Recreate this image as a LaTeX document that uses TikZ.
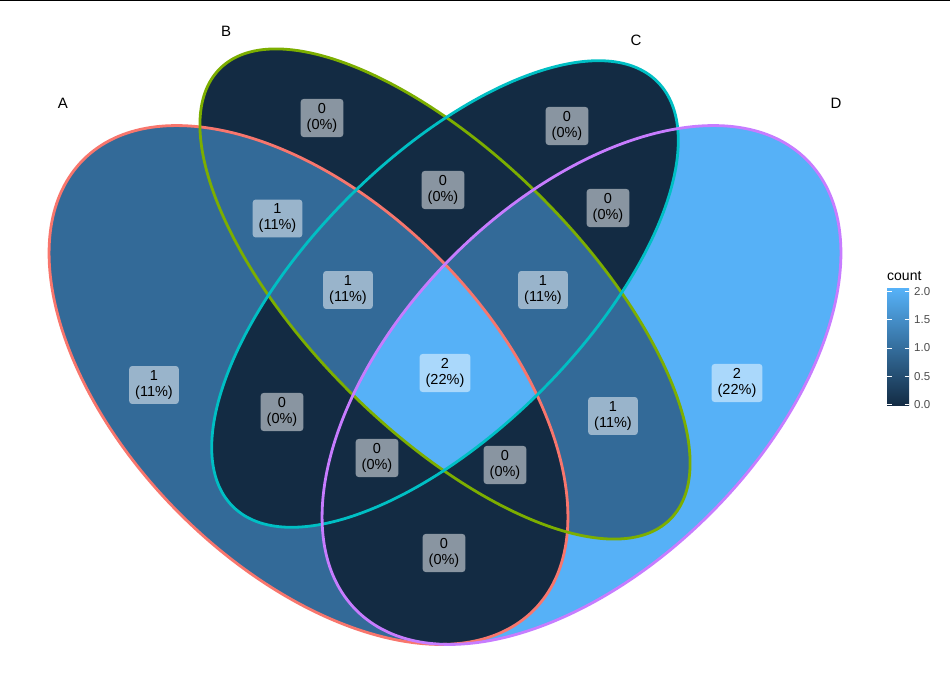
\documentclass[tikz,border=0pt]{standalone}
\usepackage{fontspec}
\setmainfont{Liberation Sans}
\begin{document}
\begin{tikzpicture}[x=1pt,y=1pt,
  lab/.style={fill=white, fill opacity=0.5, text opacity=1, rounded corners=3pt,
    align=center, inner xsep=6pt, inner ysep=4.5pt, font=\fontsize{14.5}{16}\selectfont},
  setlab/.style={font=\fontsize{15}{18}\selectfont},
  edgeA/.style={draw=cA, line width=2.8pt},
  edgeB/.style={draw=cB, line width=2.8pt},
  edgeC/.style={draw=cC, line width=2.8pt},
  edgeD/.style={draw=cD, line width=2.8pt},
  tick/.style={draw=white, line width=0.6pt},
  ticklab/.style={anchor=west, font=\fontsize{11.5}{13}\selectfont, text=black!70, inner sep=0pt}]
\definecolor{dark}{HTML}{132B43}
\definecolor{mid}{HTML}{336A98}
\definecolor{light}{HTML}{56B1F7}
\definecolor{cA}{HTML}{F8766D}
\definecolor{cB}{HTML}{7CAE00}
\definecolor{cC}{HTML}{00BFC4}
\definecolor{cD}{HTML}{C77CFF}
\useasboundingbox (0,0) rectangle (950,675);
\newcommand\clipEllA{\clip[shift={(308.5,290)},rotate=-45] (0,0) ellipse [x radius=318.5, y radius=182];}
\newcommand\clipEllB{\clip[shift={(445,381)},rotate=-45] (0,0) ellipse [x radius=318.5, y radius=136.5];}
\newcommand\clipEllC{\clip[shift={(445,381)},rotate=45] (0,0) ellipse [x radius=300.3, y radius=136.5];}
\newcommand\clipEllD{\clip[shift={(581.5,290)},rotate=45] (0,0) ellipse [x radius=318.5, y radius=182];}
\newcommand\fullrect{(0,0) rectangle (950,675)}
% top rule
\draw[line width=1.5pt] (0,674.25) -- (950,674.25);
% region fills
\begin{scope}\clipEllD \fill[light] \fullrect; \end{scope}
\begin{scope}\clipEllA \fill[mid] \fullrect; \end{scope}
\begin{scope}\clipEllB \fill[dark] \fullrect; \end{scope}
\begin{scope}\clipEllC \fill[dark] \fullrect; \end{scope}
\begin{scope}\clipEllA \clipEllD \fill[dark] \fullrect; \end{scope}
\begin{scope}\clipEllA \clipEllB \fill[mid] \fullrect; \end{scope}
\begin{scope}\clipEllB \clipEllD \fill[mid] \fullrect; \end{scope}
\begin{scope}\clipEllA \clipEllB \clipEllD \fill[dark] \fullrect; \end{scope}
\begin{scope}\clipEllA \clipEllB \clipEllC \clipEllD \fill[light] \fullrect; \end{scope}
% outlines
\path[edgeA, shift={(308.5,290)},rotate=-45] (0,0) ellipse [x radius=318.5, y radius=182];
\path[edgeB, shift={(445,381)},rotate=-45] (0,0) ellipse [x radius=318.5, y radius=136.5];
\path[edgeC, shift={(445,381)},rotate=45] (0,0) ellipse [x radius=300.3, y radius=136.5];
\path[edgeD, shift={(581.5,290)},rotate=45] (0,0) ellipse [x radius=318.5, y radius=182];
% set labels
\node[setlab] (sA) at (63,572) {A};
\node[setlab] (sB) at (226,644) {B};
\node[setlab] (sC) at (636,635) {C};
\node[setlab] (sD) at (836,572) {D};
% region labels
\node[lab] (rB) at (322,557) {0\\(0\%)};
\node[lab] (rBC) at (443,485) {0\\(0\%)};
\node[lab] (rC) at (567,549) {0\\(0\%)};
\node[lab] (rCD) at (608,467) {0\\(0\%)};
\node[lab] (rAB) at (277.5,456.5) {1\\(11\%)};
\node[lab] (rABC) at (348,385) {1\\(11\%)};
\node[lab] (rBCD) at (543,385) {1\\(11\%)};
\node[lab] (rABCD) at (445,302) {2\\(22\%)};
\node[lab] (rA) at (154,290) {1\\(11\%)};
\node[lab] (rAC) at (282,263) {0\\(0\%)};
\node[lab] (rACD) at (377,217) {0\\(0\%)};
\node[lab] (rABD) at (505,210) {0\\(0\%)};
\node[lab] (rBD) at (613,259) {1\\(11\%)};
\node[lab] (rAD) at (444,122) {0\\(0\%)};
\node[lab] (rD) at (737,292) {2\\(22\%)};
% legend
\shade[bottom color=dark, top color=light] (887,269) rectangle (909,386);
\foreach \yy in {383.5,355.25,327,298.75,270.5}{
  \draw[tick] (887,\yy) -- (891.5,\yy);
  \draw[tick] (904.5,\yy) -- (909,\yy);
}
\node[anchor=west, font=\fontsize{14}{16}\selectfont, inner sep=0pt] (lt) at (887,399) {count};
\node[ticklab] (t20) at (914,383.5) {2.0};
\node[ticklab] (t15) at (914,355.25) {1.5};
\node[ticklab] (t10) at (914,327) {1.0};
\node[ticklab] (t05) at (914,298.75) {0.5};
\node[ticklab] (t00) at (914,270.5) {0.0};
\end{tikzpicture}
\end{document}
